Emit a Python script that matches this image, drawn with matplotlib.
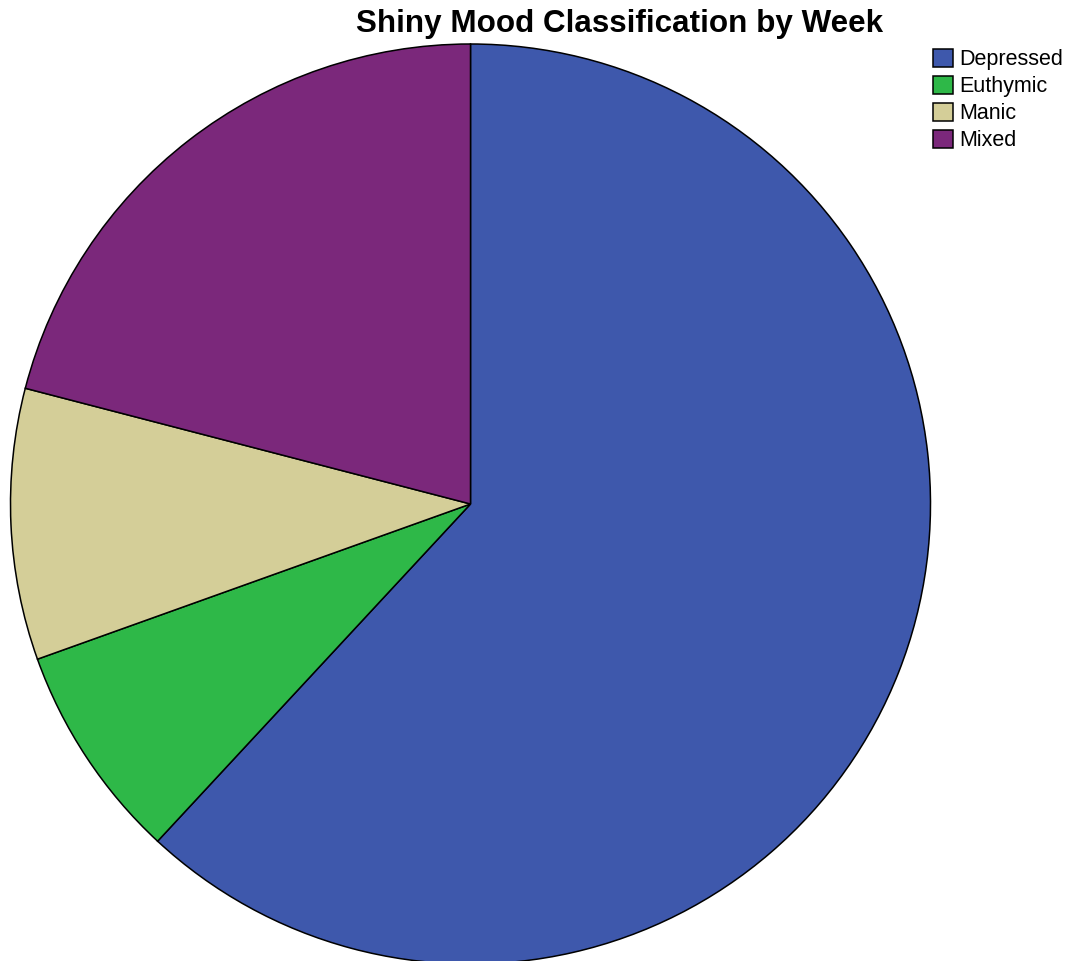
import matplotlib.pyplot as plt

# weekly counts per mood class
labels = ["Depressed", "Euthymic", "Manic", "Mixed"]
weeks = [65, 8, 10, 22]
colors = ["#3E58AC", "#2EB848", "#D4CE98", "#7B287B"]

plt.rcParams['font.family'] = ['Liberation Sans', 'DejaVu Sans']

W, H = 1071, 961
fig = plt.figure(figsize=(W / 100, H / 100), dpi=100)

# pie box: 920 px square, center at (470.5, 504) px from top-left
r = 460
cx, cy = 470.5, 504
ax = fig.add_axes([(cx - r) / W, (H - cy - r) / H, 2 * r / W, 2 * r / H])
wedges, _ = ax.pie(weeks, colors=colors, startangle=90, counterclock=False,
                   radius=1, wedgeprops=dict(edgecolor="black", linewidth=1.1))
for w in wedges:
    w.set_clip_on(False)
ax.set_xlim(-1, 1)
ax.set_ylim(-1, 1)
ax.axis("off")

fig.text(620 / W, 1 - 24 / H, "Shiny Mood Classification by Week",
         ha="center", va="center", fontsize=22.6, fontweight="bold")

fs = 15.5
fpx = fs * 100 / 72
fig.legend(wedges, labels, loc="upper left",
           bbox_to_anchor=(933 / W, 1 - 49 / H), frameon=False,
           fontsize=fs, borderpad=0, borderaxespad=0,
           handlelength=20 / fpx, handleheight=19 / fpx,
           handletextpad=6 / fpx, labelspacing=0.27)

fig.savefig("out.png", dpi=100)
